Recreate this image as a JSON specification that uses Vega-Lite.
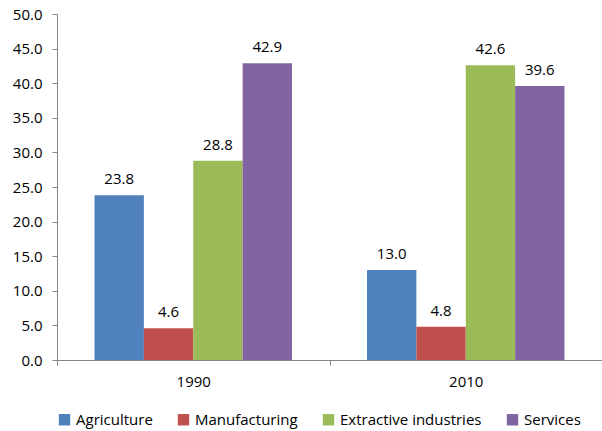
{
  "$schema": "https://vega.github.io/schema/vega-lite/v6.json",
  "width": 545,
  "height": 346,
  "autosize": "none",
  "padding": {"left": 57, "top": 14, "right": 0, "bottom": 71},
  "config": {"view": {"stroke": null}, "font": "Open Sans"},
  "data": {
    "values": [
      {"year": "1990", "sector": "Agriculture", "value": 23.8},
      {"year": "1990", "sector": "Manufacturing", "value": 4.6},
      {"year": "1990", "sector": "Extractive industries", "value": 28.8},
      {"year": "1990", "sector": "Services", "value": 42.9},
      {"year": "2010", "sector": "Agriculture", "value": 13.0},
      {"year": "2010", "sector": "Manufacturing", "value": 4.8},
      {"year": "2010", "sector": "Extractive industries", "value": 42.6},
      {"year": "2010", "sector": "Services", "value": 39.6}
    ]
  },
  "encoding": {
    "x": {
      "field": "year", "type": "nominal",
      "scale": {"paddingInner": 0, "paddingOuter": 0},
      "axis": {
        "title": null, "labelAngle": 0, "tickBand": "extent",
        "domainColor": "#868686", "tickColor": "#868686", "tickSize": 5,
        "labelFontSize": 15, "labelColor": "#000000", "labelPadding": 9
      }
    },
    "xOffset": {
      "field": "sector",
      "sort": ["Agriculture", "Manufacturing", "Extractive industries", "Services"],
      "scale": {"paddingInner": 0, "paddingOuter": 0.76}
    },
    "y": {
      "field": "value", "type": "quantitative",
      "scale": {"domain": [0, 50]},
      "axis": {
        "title": null, "grid": false, "format": ".1f",
        "values": [0, 5, 10, 15, 20, 25, 30, 35, 40, 45, 50],
        "domainColor": "#868686", "tickColor": "#868686", "tickSize": 5,
        "labelFontSize": 15, "labelColor": "#000000", "labelPadding": 10
      }
    }
  },
  "layer": [
    {
      "mark": {"type": "bar"},
      "encoding": {
        "color": {
          "field": "sector", "type": "nominal",
          "sort": ["Agriculture", "Manufacturing", "Extractive industries", "Services"],
          "scale": {
            "domain": ["Agriculture", "Manufacturing", "Extractive industries", "Services"],
            "range": ["#4F81BD", "#C0504D", "#9BBB59", "#8064A2"]
          },
          "legend": {
            "title": null, "orient": "bottom", "direction": "horizontal",
            "symbolType": "square", "symbolSize": 130, "symbolStrokeWidth": 0,
            "labelFontSize": 15, "labelColor": "#000000", "columnPadding": 23,
            "offset": 23
          }
        }
      }
    },
    {
      "mark": {"type": "text", "baseline": "alphabetic", "dy": -11, "fontSize": 15, "color": "#000000"},
      "encoding": {"text": {"field": "value", "type": "quantitative", "format": ".1f"}}
    }
  ]
}
